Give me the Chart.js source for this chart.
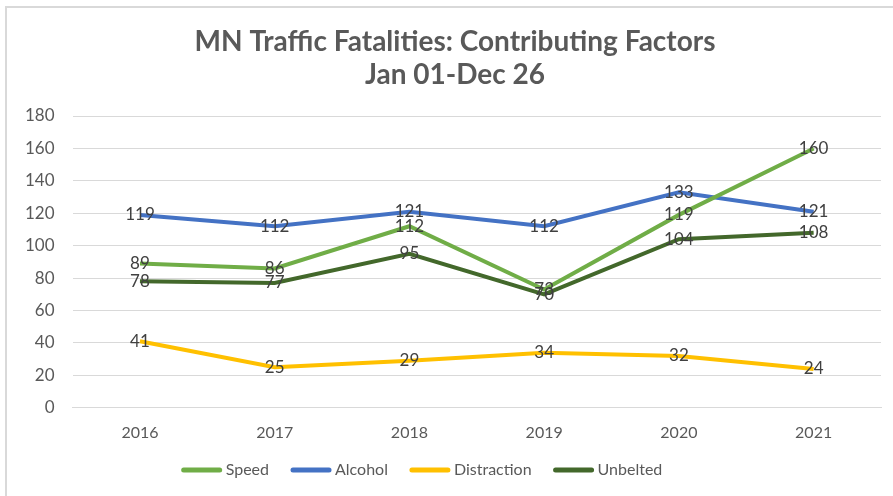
<!DOCTYPE html>
<html><head><meta charset="utf-8">
<script src="https://cdn.jsdelivr.net/npm/chart.js@4/dist/chart.umd.min.js"></script>
<style>
html,body{margin:0;padding:0;background:#fff;}
#wrap{position:absolute;left:0;top:0;width:893px;height:496px;}
#frame{position:absolute;left:5px;top:6px;width:900px;height:500px;border-left:2px solid #d9d9d9;border-top:2px solid #d9d9d9;box-sizing:border-box;pointer-events:none;}
</style></head>
<body>
<div id="wrap"><canvas id="c" width="893" height="496"></canvas><div id="frame"></div></div>
<script>
const years = ['2016','2017','2018','2019','2020','2021'];
const speed = [89, 86, 112, 73, 119, 160];
const alcohol = [119, 112, 121, 112, 133, 121];
const distraction = [41, 25, 29, 34, 32, 24];
const unbelted = [78, 77, 95, 70, 104, 108];
const yTicks = [0,20,40,60,80,100,120,140,160,180];
const titleLines = ['MN Traffic Fatalities: Contributing Factors', 'Jan 01-Dec 26'];

const FONT = 'Lato, "Open Sans", sans-serif';
const labelPlugin = {
  id: 'pointLabels',
  afterDatasetsDraw(chart) {
    const ctx = chart.ctx;
    ctx.save();
    ctx.font = '17px ' + FONT;
    ctx.fillStyle = '#404040';
    ctx.textAlign = 'center';
    ctx.textBaseline = 'middle';
    chart.data.datasets.forEach((ds, i) => {
      const meta = chart.getDatasetMeta(i);
      meta.data.forEach((pt, j) => {
        ctx.fillText(String(ds.data[j]), pt.x, pt.y);
      });
    });
    ctx.restore();
  }
};

const titlePlugin = {
  id: 'customTitle',
  afterDraw(chart) {
    const ctx = chart.ctx;
    ctx.save();
    ctx.font = 'bold 28px ' + FONT;
    ctx.fillStyle = '#595959';
    ctx.textAlign = 'center';
    ctx.textBaseline = 'middle';
    titleLines.forEach((t, i) => ctx.fillText(t, 455, 42 + i * 33));
    ctx.restore();
  }
};

const legendPlugin = {
  id: 'customLegend',
  afterDraw(chart) {
    const ctx = chart.ctx;
    ctx.save();
    ctx.font = '16px ' + FONT;
    ctx.textBaseline = 'middle';
    const lineW = 40, gapText = 4, gapItem = 22, y = 470;
    const items = chart.data.datasets.map(d => ({label: d.label, color: d.borderColor, w: ctx.measureText(d.label).width}));
    let total = items.reduce((s, it) => s + lineW + gapText + it.w, 0) + gapItem * (items.length - 1);
    let x = 422 - total / 2;
    items.forEach(it => {
      ctx.strokeStyle = it.color;
      ctx.lineWidth = 5;
      ctx.lineCap = 'round';
      ctx.beginPath();
      ctx.moveTo(x + 2, y); ctx.lineTo(x + lineW - 2, y);
      ctx.stroke();
      ctx.fillStyle = '#595959';
      ctx.fillText(it.label, x + lineW + gapText, y);
      x += lineW + gapText + it.w + gapItem;
    });
    ctx.restore();
  }
};

function ds(label, data, color) {
  return {label, data, borderColor: color, backgroundColor: color, borderWidth: 4,
    pointRadius: 0, tension: 0, fill: false};
}

new Chart(document.getElementById('c'), {
  type: 'line',
  data: {
    labels: years,
    datasets: [
      ds('Speed', speed, '#70AD47'),
      ds('Alcohol', alcohol, '#4472C4'),
      ds('Distraction', distraction, '#FFC000'),
      ds('Unbelted', unbelted, '#43682B')
    ]
  },
  options: {
    responsive: false,
    animation: false,
    layout: {padding: {left: 7, right: 12, top: 116, bottom: 39}},
    plugins: {
      title: {display: false},
      legend: {display: false},
      tooltip: {enabled: false}
    },
    scales: {
      x: {offset: true, grid: {display: false, drawTicks: false}, border: {display: true, color: '#d9d9d9'},
        ticks: {color: '#595959', font: {family: FONT, size: 16}, padding: 15}},
      y: {min: 0, max: 180, afterBuildTicks: (s) => { s.ticks = yTicks.map(v => ({value: v})); },
        grid: {color: '#d9d9d9', drawTicks: false}, border: {display: false},
        ticks: {color: '#595959', font: {family: FONT, size: 17}, padding: 18}}
    }
  },
  plugins: [labelPlugin, titlePlugin, legendPlugin]
});
</script>
</body></html>
